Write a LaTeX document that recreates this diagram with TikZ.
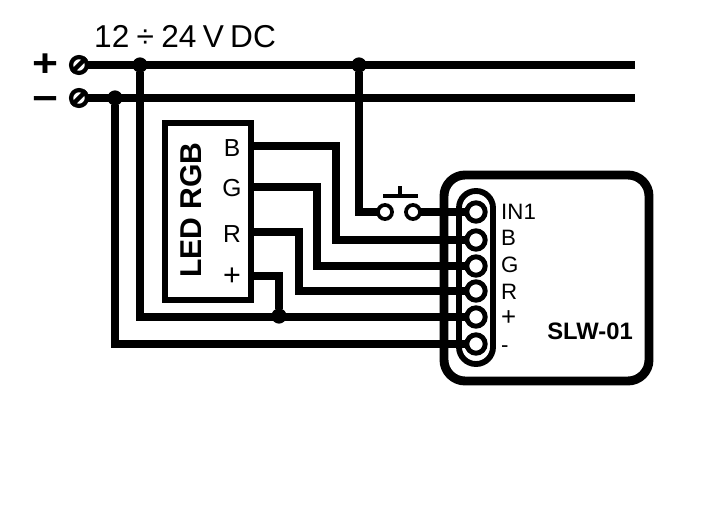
\documentclass[tikz,border=0pt]{standalone}
\usepackage{fontspec}
\setmainfont{Liberation Sans}
\usepackage{tikz}

\tikzset{
    wire/.style={line width=6.2pt,shorten <=-1pt,shorten >=-1pt},
    junction/.style={circle,fill=black,inner sep=0pt,minimum size=13pt},
    screw/.style={circle,draw,fill=white,line width=3.6pt,inner sep=0pt,minimum size=13.5pt},
    contact/.style={circle,draw,fill=white,line width=3.2pt,inner sep=0pt,minimum size=12pt},
    pin/.style={circle,draw,fill=white,line width=4.2pt,inner sep=0pt,minimum size=15.7pt},
    pinlabel/.style={anchor=west,inner sep=0pt,font=\fontsize{19}{19}\selectfont},
    ledlabel/.style={inner sep=0pt,font=\fontsize{21}{21}\selectfont},
    title/.style={inner sep=0pt,font=\fontsize{27}{27}\selectfont},
    polarity/.style={inner sep=0pt,xscale=1.15,font=\fontsize{33}{33}\selectfont\bfseries}
}

\begin{document}
\begin{tikzpicture}[x=0.03cm,y=-0.03cm]
    \useasboundingbox (0,0) rectangle (704,511);
    \coordinate (busP) at (634,65); % End of + line
    \coordinate (busM) at (634,98); % End of - line
    \coordinate (ledB) at (251,146); % LED outputs
    \coordinate (ledG) at (251,187);
    \coordinate (ledR) at (251,232);
    \coordinate (ledP) at (251,276);
    \coordinate (cornerB) at (336,240);
    \coordinate (cornerG) at (317,266);
    \coordinate (cornerR) at (299,291);
    \coordinate (cornerP) at (140,317);
    \coordinate (cornerM) at (115,344);
    % Module and LED boxes
    \draw[line width=7.6pt,rounded corners=18pt] (444,175) rectangle (649,381);
    \draw[line width=5pt,rounded corners=14.4pt] (459,191) rectangle (493,364);
    \draw[line width=5pt] (165,123) rectangle (251,300);
    % Terminals on the left
    \node[screw] (screwP) at (79,65) {};
    \node[screw] (screwM) at (79,98) {};
    \node[junction] (tapP) at (140,65) {};
    \node[junction] (tapM) at (115,98) {};
    \node[junction] (tapS) at (359,65) {};
    \node[junction] (tapL) at (279,316) {};
    % Pins of the module
    \node[pin] (pinI) at (476,212) {};
    \node[pin] (pinB) at (476,240) {};
    \node[pin] (pinG) at (476,266) {};
    \node[pin] (pinR) at (476,291) {};
    \node[pin] (pinP) at (476,317) {};
    \node[pin] (pinM) at (476,344) {};
    % Push button
    \node[contact] (swL) at (385,212) {};
    \node[contact] (swR) at (413,212) {};
    \coordinate (barL) at (383,196);
    \coordinate (barR) at (418,196);
    \coordinate (barM) at (400,196);
    \coordinate (barT) at (400,186);
    \draw[line width=3.6pt] (barL) -- (barR);
    \draw[line width=3.2pt] (barM) -- (barT);
    % Wires
    \draw[wire] (screwP) -- (busP);
    \draw[wire] (screwM) -- (busM);
    \draw[wire] (tapS) |- (swL);
    \draw[wire] (swR) -- (pinI);
    \draw[wire] (ledB) -| (cornerB) -- (pinB);
    \draw[wire] (ledG) -| (cornerG) -- (pinG);
    \draw[wire] (ledR) -| (cornerR) -- (pinR);
    \draw[wire] (ledP) -| (tapL);
    \draw[wire] (tapP) -- (cornerP) -- (pinP);
    \draw[wire] (tapM) -- (cornerM) -- (pinM);
    \draw[line width=3.8pt] (screwP.south west) -- (screwP.north east);
    \draw[line width=3.8pt] (screwM.south west) -- (screwM.north east);
    % Labels
    \node[title,anchor=west] (supply) at (94,37) {12\hspace{0.23em}÷\hspace{0.23em}24\hspace{0.2em}V\hspace{0.2em}DC};
    \node[polarity] (plus) at (45,65) {+};
    \node[polarity] (minus) at (45,104) {−};
    \node[inner sep=0pt,rotate=90,font=\fontsize{25.7}{26}\selectfont\bfseries] (led) at (191,210) {LED RGB};
    \node[ledlabel] (textB) at (232,148) {B};
    \node[ledlabel] (textG) at (232,188) {G};
    \node[ledlabel] (textR) at (232,234) {R};
    \node[inner sep=0pt,font=\fontsize{26}{26}\selectfont] (textP) at (232,277) {+};
    \node[pinlabel] (labelI) at (501,212) {IN1};
    \node[pinlabel] (labelB) at (501,238) {B};
    \node[pinlabel] (labelG) at (501,265) {G};
    \node[pinlabel] (labelR) at (501,292) {R};
    \node[pinlabel,font=\fontsize{22}{22}\selectfont] (labelP) at (501,318) {+};
    \node[pinlabel] (labelM) at (501,349) {-};
    \node[inner sep=0pt,font=\fontsize{20.3}{20}\selectfont\bfseries] (model) at (590,331) {SLW-01};
\end{tikzpicture}
\end{document}
